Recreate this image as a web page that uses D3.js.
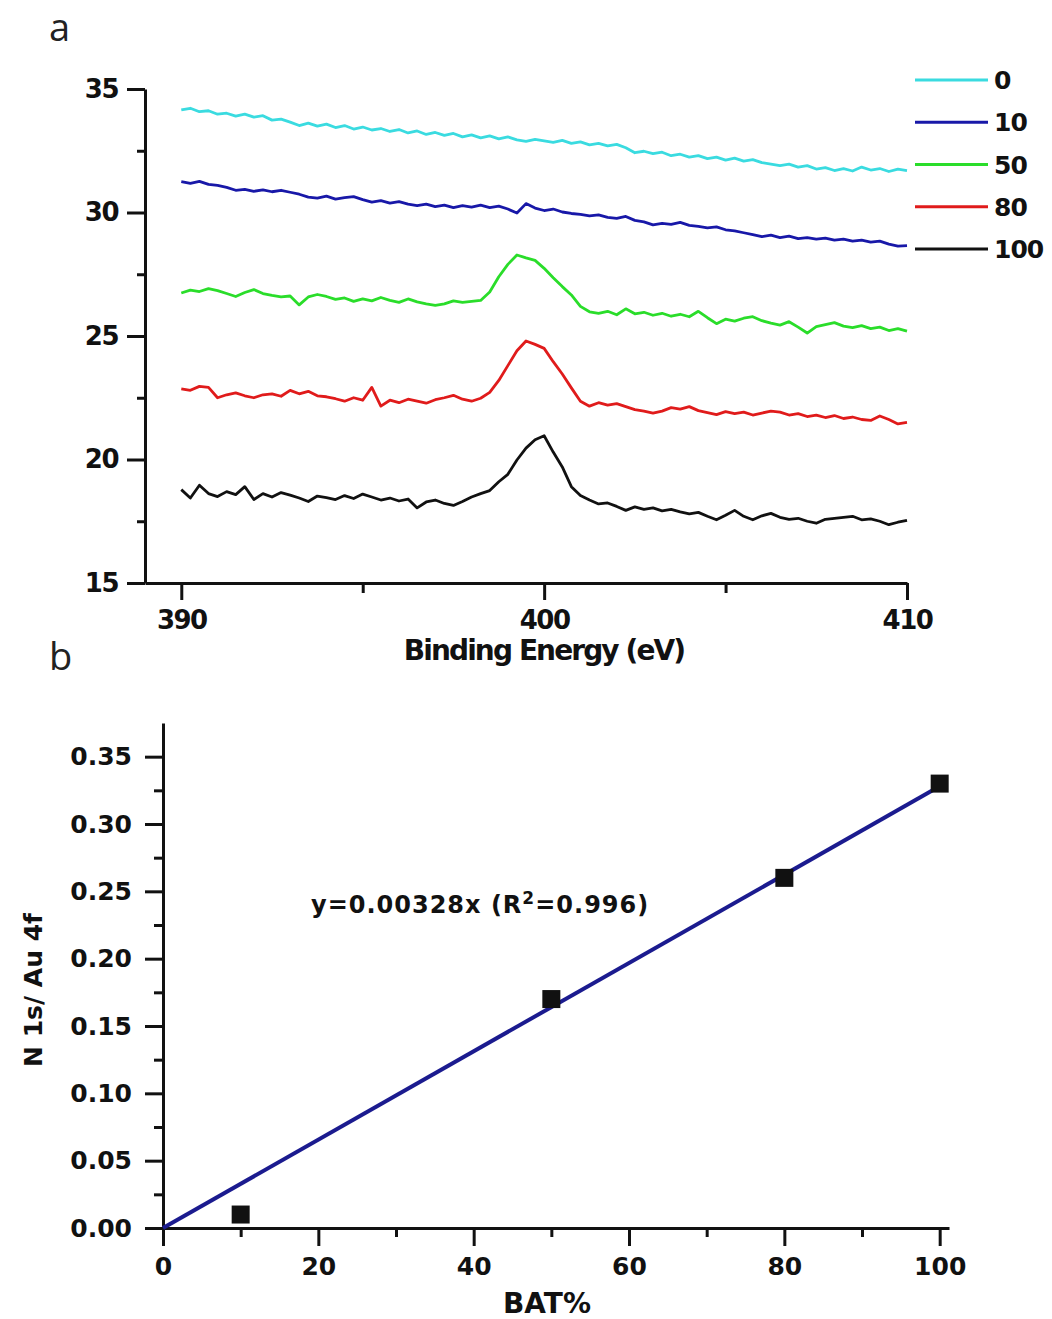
<!DOCTYPE html>
<html>
<head>
<meta charset="utf-8">
<script src="https://cdn.jsdelivr.net/npm/d3@7"></script>
<style>
	body { margin: 0; background: #fff; }
	svg { display: block; }
	text { font-family: 'DejaVu Sans', sans-serif; font-weight: bold; fill: #111; }
	.panelLabel { font-family: 'Open Sans', sans-serif; font-weight: normal; font-size: 38px; fill: #222; }
</style>
</head>
<body>
<svg width="1052" height="1319"></svg>
<script>
// panel a : N 1s spectra, one trace per BAT %, sampled every 0.25 eV from 390 eV
let spectrumStart = 390
let spectrumStep = 0.25
let seriesNames = ['0', '10', '50', '80', '100']
let seriesColors = ['#3adbe0', '#1818a8', '#2add2a', '#e01b1b', '#111111']

let bat0 = [34.15, 34.22, 34.08, 34.12, 33.98, 34.02, 33.90, 33.98, 33.86, 33.92, 33.74, 33.78, 33.66, 33.52, 33.62, 33.50,
	33.58, 33.44, 33.52, 33.38, 33.46, 33.34, 33.40, 33.28, 33.36, 33.22, 33.30, 33.16, 33.24, 33.12, 33.20, 33.06,
	33.14, 33.02, 33.10, 32.98, 33.06, 32.94, 32.88, 32.96, 32.90, 32.84, 32.92, 32.80, 32.86, 32.74, 32.80, 32.70,
	32.76, 32.62, 32.42, 32.48, 32.38, 32.44, 32.30, 32.36, 32.24, 32.30, 32.18, 32.24, 32.12, 32.20, 32.08, 32.14,
	32.02, 31.96, 31.90, 31.96, 31.84, 31.90, 31.76, 31.82, 31.70, 31.78, 31.68, 31.84, 31.72, 31.78, 31.66, 31.76, 31.70]
let bat10 = [31.25, 31.18, 31.26, 31.14, 31.10, 31.02, 30.90, 30.94, 30.86, 30.92, 30.84, 30.90, 30.82, 30.74, 30.62, 30.58,
	30.66, 30.54, 30.60, 30.64, 30.52, 30.42, 30.48, 30.38, 30.44, 30.34, 30.28, 30.34, 30.24, 30.30, 30.20, 30.28,
	30.22, 30.30, 30.20, 30.26, 30.14, 29.98, 30.36, 30.18, 30.08, 30.14, 30.02, 29.96, 29.92, 29.86, 29.90, 29.80,
	29.76, 29.84, 29.68, 29.62, 29.50, 29.56, 29.52, 29.60, 29.48, 29.44, 29.38, 29.42, 29.30, 29.26, 29.18, 29.10,
	29.02, 29.08, 28.98, 29.04, 28.94, 28.98, 28.92, 28.96, 28.88, 28.92, 28.84, 28.88, 28.80, 28.84, 28.72, 28.64, 28.66]
let bat50 = [26.74, 26.86, 26.80, 26.92, 26.84, 26.72, 26.60, 26.76, 26.88, 26.72, 26.64, 26.58, 26.62, 26.26, 26.58, 26.68,
	26.60, 26.48, 26.54, 26.40, 26.50, 26.42, 26.56, 26.44, 26.36, 26.50, 26.38, 26.30, 26.24, 26.30, 26.42, 26.36,
	26.40, 26.44, 26.78, 27.40, 27.90, 28.28, 28.16, 28.06, 27.74, 27.36, 27.00, 26.66, 26.20, 25.98, 25.92, 26.00,
	25.86, 26.10, 25.90, 25.96, 25.84, 25.92, 25.80, 25.88, 25.78, 26.00, 25.74, 25.50, 25.68, 25.60, 25.72, 25.78,
	25.62, 25.52, 25.44, 25.58, 25.36, 25.12, 25.38, 25.46, 25.54, 25.40, 25.34, 25.42, 25.30, 25.36, 25.22, 25.30, 25.20]
let bat80 = [22.86, 22.80, 22.96, 22.92, 22.50, 22.62, 22.70, 22.58, 22.50, 22.62, 22.66, 22.56, 22.80, 22.66, 22.76, 22.58,
	22.54, 22.46, 22.36, 22.50, 22.40, 22.92, 22.16, 22.40, 22.30, 22.44, 22.36, 22.28, 22.42, 22.50, 22.60, 22.44,
	22.36, 22.48, 22.72, 23.20, 23.80, 24.40, 24.80, 24.66, 24.50, 23.96, 23.46, 22.90, 22.36, 22.16, 22.30, 22.20,
	22.26, 22.14, 22.02, 21.96, 21.88, 21.96, 22.10, 22.04, 22.14, 21.98, 21.90, 21.82, 21.94, 21.86, 21.92, 21.80,
	21.88, 21.96, 21.92, 21.80, 21.86, 21.74, 21.80, 21.70, 21.78, 21.66, 21.72, 21.62, 21.58, 21.76, 21.62, 21.44, 21.50]
let bat100 = [18.78, 18.44, 18.96, 18.62, 18.50, 18.70, 18.58, 18.90, 18.38, 18.62, 18.48, 18.66, 18.56, 18.44, 18.30, 18.52,
	18.46, 18.38, 18.54, 18.42, 18.60, 18.48, 18.36, 18.44, 18.32, 18.40, 18.04, 18.28, 18.36, 18.22, 18.14, 18.30,
	18.48, 18.62, 18.74, 19.10, 19.40, 19.98, 20.46, 20.80, 20.96, 20.30, 19.70, 18.90, 18.54, 18.36, 18.20, 18.24,
	18.10, 17.94, 18.08, 17.98, 18.04, 17.92, 17.98, 17.88, 17.80, 17.86, 17.70, 17.56, 17.74, 17.94, 17.70, 17.56,
	17.72, 17.82, 17.66, 17.58, 17.62, 17.50, 17.42, 17.58, 17.62, 17.66, 17.70, 17.56, 17.60, 17.50, 17.36, 17.46, 17.54]
let spectra = [bat0, bat10, bat50, bat80, bat100]

let energyTicks = [390, 400, 410]
let energyMinorTicks = [395, 405]
let countTicks = [15, 20, 25, 30, 35]
let countMinorTicks = [17.5, 22.5, 27.5, 32.5]

// panel b : N 1s / Au 4f ratio against BAT %
let batPercent = [10, 50, 80, 100]
let ratio = [0.01, 0.17, 0.26, 0.33]
let fitSlope = 0.00328
let fitRange = [0, 100]
let batTicks = [0, 20, 40, 60, 80, 100]
let batMinorTicks = [10, 30, 50, 70, 90]
let ratioTicks = [0, 0.05, 0.10, 0.15, 0.20, 0.25, 0.30, 0.35]
let ratioMinorTicks = [0.025, 0.075, 0.125, 0.175, 0.225, 0.275, 0.325]

let svg = d3.select('svg')

function styleAxis(g, fontSize, spacing) {
	g.attr('font-family', null).attr('font-size', null)
	g.selectAll('path.domain').attr('stroke', '#111').attr('stroke-width', 3)
	g.selectAll('line').attr('stroke', '#111').attr('stroke-width', 3)
	g.selectAll('text')
		.style('font-size', fontSize + 'px')
		.style('letter-spacing', spacing + 'px')
		.attr('fill', '#111')
}

function minorAxis(axis) {
	return g => {
		g.call(axis)
		g.select('.domain').remove()
		g.selectAll('line').attr('stroke', '#111').attr('stroke-width', 3)
	}
}

// ---------- panel a ----------
let xa = d3.scaleLinear().domain([389, 410]).range([145, 907])
let ya = d3.scaleLinear().domain([15, 35]).range([583, 89])

svg.append('g').attr('transform', 'translate(0,583)')
	.call(minorAxis(d3.axisBottom(xa).tickValues(energyMinorTicks).tickSize(10).tickFormat('')))
svg.append('g').attr('transform', 'translate(145,0)')
	.call(minorAxis(d3.axisLeft(ya).tickValues(countMinorTicks).tickSize(8).tickFormat('')))

let xaAxis = svg.append('g').attr('transform', 'translate(0,583)')
	.call(d3.axisBottom(xa).tickValues(energyTicks).tickSize(17).tickSizeOuter(0).tickPadding(11).tickFormat(d3.format('d')))
styleAxis(xaAxis, 26, -1.5)

let yaAxis = svg.append('g').attr('transform', 'translate(145,0)')
	.call(d3.axisLeft(ya).tickValues(countTicks).tickSize(18).tickSizeOuter(0).tickPadding(9).tickFormat(d3.format('d')))
styleAxis(yaAxis, 26, -1.5)

let trace = d3.line()
	.x((d, i) => xa(spectrumStart + i * spectrumStep))
	.y(d => ya(d))

svg.append('g').selectAll('path')
	.data(spectra)
	.join('path')
	.attr('d', d => trace(d))
	.attr('fill', 'none')
	.attr('stroke', (d, i) => seriesColors[i])
	.attr('stroke-width', 2.8)
	.attr('stroke-linejoin', 'round')

let legend = svg.append('g')
let legendY = d3.scalePoint().domain(seriesNames).range([80, 249])
legend.selectAll('line')
	.data(seriesNames)
	.join('line')
	.attr('x1', 915).attr('x2', 988)
	.attr('y1', d => legendY(d)).attr('y2', d => legendY(d))
	.attr('stroke', (d, i) => seriesColors[i])
	.attr('stroke-width', 3)
legend.selectAll('text')
	.data(seriesNames)
	.join('text')
	.attr('x', 994)
	.attr('y', d => legendY(d) + 9)
	.style('font-size', '25px')
	.style('letter-spacing', '-1px')
	.text(d => d)

svg.append('text')
	.attr('x', 544).attr('y', 660)
	.attr('text-anchor', 'middle')
	.style('font-size', '28px')
	.style('letter-spacing', '-1.9px')
	.text('Binding Energy (eV)')

svg.append('text').attr('class', 'panelLabel').attr('x', 49).attr('y', 41).text('a')
svg.append('text').attr('class', 'panelLabel').attr('x', 49).attr('y', 670).text('b')

// ---------- panel b ----------
let xb = d3.scaleLinear().domain([0, 101.2]).range([163, 949])
let yb = d3.scaleLinear().domain([0, 0.375]).range([1228, 723])

svg.append('g').attr('transform', 'translate(0,1228)')
	.call(minorAxis(d3.axisBottom(xb).tickValues(batMinorTicks).tickSize(9).tickFormat('')))
svg.append('g').attr('transform', 'translate(163,0)')
	.call(minorAxis(d3.axisLeft(yb).tickValues(ratioMinorTicks).tickSize(9).tickFormat('')))

let xbAxis = svg.append('g').attr('transform', 'translate(0,1228)')
	.call(d3.axisBottom(xb).tickValues(batTicks).tickSize(18).tickSizeOuter(0).tickPadding(11).tickFormat(d3.format('d')))
styleAxis(xbAxis, 25, 0)

let ybAxis = svg.append('g').attr('transform', 'translate(163,0)')
	.call(d3.axisLeft(yb).tickValues(ratioTicks).tickSize(18).tickSizeOuter(0).tickPadding(13).tickFormat(d3.format('.2f')))
styleAxis(ybAxis, 25, 0)

let fitLine = d3.line().x(d => xb(d)).y(d => yb(d * fitSlope))
svg.append('path')
	.attr('d', fitLine(fitRange))
	.attr('fill', 'none')
	.attr('stroke', '#1b1b8f')
	.attr('stroke-width', 4)

svg.append('g').selectAll('rect')
	.data(batPercent)
	.join('rect')
	.attr('x', d => xb(d) - 9)
	.attr('y', (d, i) => yb(ratio[i]) - 9)
	.attr('width', 18)
	.attr('height', 18)
	.attr('fill', '#111')

let eq = svg.append('text')
	.attr('x', 311).attr('y', 913)
	.style('font-size', '24px')
	.style('letter-spacing', '1px')
eq.append('tspan').text('y=0.00328x (R')
eq.append('tspan').attr('dy', -9).style('font-size', '17px').text('2')
eq.append('tspan').attr('dy', 9).text('=0.996)')

svg.append('text')
	.attr('transform', 'translate(42,990) rotate(-90)')
	.attr('text-anchor', 'middle')
	.style('font-size', '25px')
	.text('N 1s/ Au 4f')

svg.append('text')
	.attr('x', 547).attr('y', 1313)
	.attr('text-anchor', 'middle')
	.style('font-size', '28px')
	.text('BAT%')
</script>
</body>
</html>
